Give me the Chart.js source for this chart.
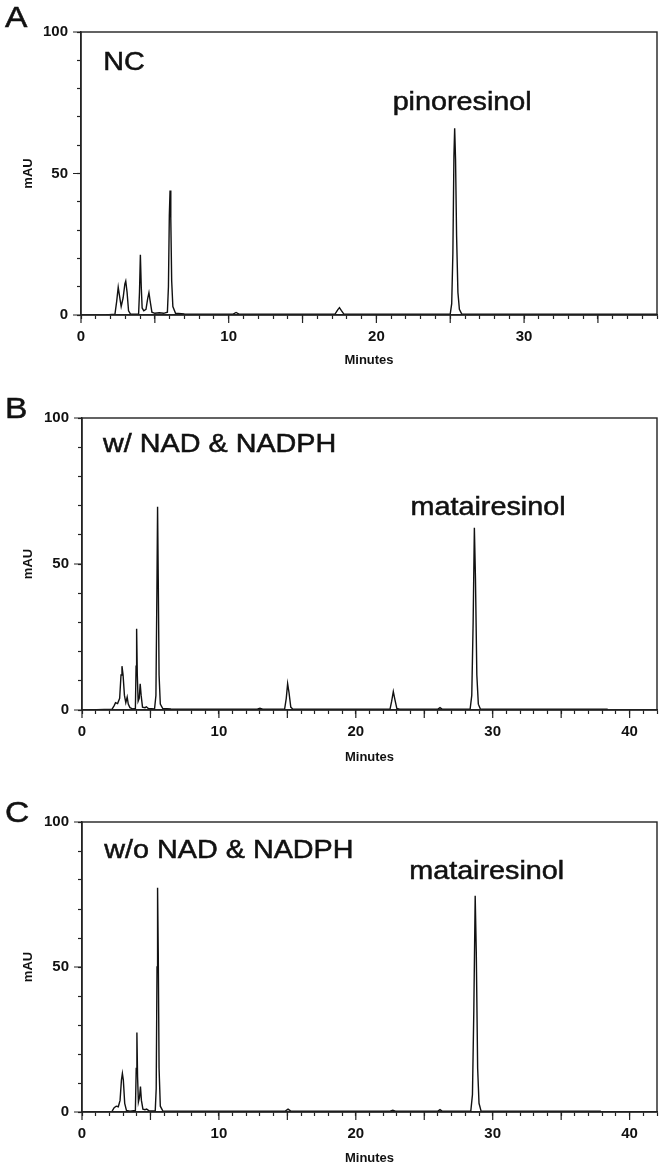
<!DOCTYPE html>
<html>
<head>
<meta charset="utf-8">
<script src="https://cdn.jsdelivr.net/npm/chart.js@4.4.0/dist/chart.umd.min.js"></script>
<style>
  body { margin: 0; background: #fff; width: 666px; height: 1166px; position: relative; overflow: hidden; }
  canvas { position: absolute; left: 0; }
</style>
</head>
<body>
<canvas id="panelA" width="666" height="380" style="top:0px"></canvas>
<canvas id="panelB" width="666" height="400" style="top:380px"></canvas>
<canvas id="panelC" width="666" height="386" style="top:780px"></canvas>
<script>
// chromatogram traces (minutes, mAU)
var timeA = [1.7, 2.3, 2.42, 2.52, 2.6, 2.72, 2.85, 2.97, 3.03, 3.12, 3.22, 3.35, 3.9, 3.96, 4.02, 4.08, 4.14, 4.25, 4.4, 4.52, 4.6, 4.68, 4.8, 5.0, 5.3, 5.6, 5.85, 5.92, 5.98, 6.03, 6.08, 6.14, 6.22, 6.4, 7.0, 8.6, 10.3, 10.5, 10.7, 17.2, 17.38, 17.5, 17.62, 17.8, 25.0, 25.1, 25.18, 25.25, 25.3, 25.36, 25.43, 25.52, 25.62, 25.78, 39];
var mauA  = [0, 0.3, 5, 9.8, 7, 3, 6, 11, 12, 8, 1.5, 0.3, 0.3, 8, 21.3, 10, 2.5, 1.5, 2, 6, 7.9, 5, 1, 0.6, 0.8, 0.6, 1, 10, 35, 44, 34, 12, 3, 0.6, 0.4, 0.3, 0.3, 0.9, 0.3, 0.3, 1.8, 2.6, 1.6, 0.3, 0.3, 4, 22, 56, 66, 55, 28, 8, 2, 0.3, 0.3];

var timeB = [0.5, 2.2, 2.35, 2.45, 2.6, 2.75, 2.85, 2.92, 3.0, 3.1, 3.2, 3.3, 3.38, 3.5, 3.7, 3.9, 3.95, 3.99, 4.04, 4.1, 4.18, 4.25, 4.32, 4.42, 4.6, 4.7, 4.85, 5.3, 5.4, 5.47, 5.52, 5.57, 5.63, 5.72, 5.9, 6.5, 12.8, 13.0, 13.2, 14.8, 14.92, 15.02, 15.12, 15.25, 15.4, 22.5, 22.62, 22.74, 22.86, 23.0, 23.2, 26.0, 26.15, 26.3, 28.35, 28.47, 28.57, 28.66, 28.74, 28.84, 28.95, 29.1, 38.4];
var mauB  = [0, 0.3, 1.5, 2.5, 2.2, 4, 12, 15, 12, 5, 2.5, 4.4, 2, 0.8, 0.4, 0.5, 15, 27.8, 12, 3, 4, 9, 5, 1, 0.8, 1.1, 0.5, 0.4, 5, 40, 69.6, 45, 12, 2, 0.5, 0.4, 0.3, 0.6, 0.3, 0.3, 4, 9, 6, 1, 0.3, 0.3, 3, 6.3, 3.5, 0.5, 0.3, 0.3, 0.8, 0.3, 0.3, 5, 30, 62.4, 45, 12, 2, 0.3, 0.3];

var timeC = [2.2, 2.35, 2.5, 2.65, 2.78, 2.88, 2.95, 3.02, 3.12, 3.25, 3.5, 3.9, 3.96, 4.01, 4.06, 4.12, 4.2, 4.27, 4.34, 4.45, 4.6, 4.72, 4.9, 5.35, 5.42, 5.48, 5.52, 5.57, 5.63, 5.72, 5.9, 14.85, 15.05, 15.25, 22.5, 22.7, 22.9, 26.0, 26.15, 26.3, 28.4, 28.52, 28.62, 28.72, 28.8, 28.9, 29.0, 29.15, 37.9];
var mauC  = [0.3, 1.5, 2, 1.8, 4, 11, 13.3, 11, 3, 0.5, 0.3, 0.5, 15, 27.4, 12, 3.4, 5, 8.8, 4, 1, 0.8, 1, 0.4, 0.4, 8, 50, 77.3, 55, 15, 2, 0.4, 0.3, 1, 0.3, 0.3, 0.6, 0.3, 0.3, 0.8, 0.3, 0.3, 6, 35, 74.6, 55, 15, 3, 0.3, 0.3];

var yTickLabels = [0, 50, 100];
var xTickLabelsA = [0, 10, 20, 30];
var xTickLabelsBC = [0, 10, 20, 30, 40];

var FONT = '"Liberation Sans", Arial, sans-serif';
var INK = '#111';

// text in the figure is a little wider and heavier than plain Arial
function stretchText(ctx, text, x, y, sx) {
  ctx.save();
  ctx.translate(x, y);
  ctx.scale(sx, 1);
  ctx.fillText(text, 0, 0);
  ctx.strokeText(text, 0, 0);
  ctx.restore();
}

// frame, longer major ticks, in-plot labels and panel letter
var decorPlugin = {
  id: 'decor',
  afterDraw: function(chart, args, opts) {
    var ctx = chart.ctx, a = chart.chartArea;
    var xs = chart.scales.x, ys = chart.scales.y;
    ctx.save();
    ctx.strokeStyle = '#222';
    ctx.lineWidth = 1.4;
    ctx.strokeRect(a.left, a.top, a.right - a.left, a.bottom - a.top);
    ctx.beginPath();
    for (var t = 0; t <= xs.max; t += 5) {
      var px = xs.getPixelForValue(t);
      ctx.moveTo(px, a.bottom);
      ctx.lineTo(px, a.bottom + 8);
    }
    for (var i = 0; i < yTickLabels.length; i++) {
      var py = ys.getPixelForValue(yTickLabels[i]);
      ctx.moveTo(a.left, py);
      ctx.lineTo(a.left - 8, py);
    }
    ctx.lineWidth = 1.2;
    ctx.stroke();

    ctx.fillStyle = INK;
    ctx.strokeStyle = INK;
    ctx.lineWidth = 0.5;
    ctx.textBaseline = 'alphabetic';
    ctx.textAlign = 'left';
    ctx.font = '25px ' + FONT;
    opts.notes.forEach(function(n) {
      stretchText(ctx, n.text, xs.getPixelForValue(n.x), ys.getPixelForValue(n.y), 1.15);
    });
    ctx.font = '30px ' + FONT;
    stretchText(ctx, opts.letter, 5, opts.letterY, 1.12);
    ctx.restore();
  }
};

function createGraph(id, times, values, cfg) {
  var points = times.map(function(t, i) { return {x: t, y: values[i]}; });
  return new Chart(document.getElementById(id), {
    type: 'line',
    data: {
      datasets: [{
        data: points,
        borderColor: INK,
        borderWidth: 1.4,
        pointRadius: 0,
        tension: 0,
        fill: false
      }]
    },
    plugins: [decorPlugin],
    options: {
      responsive: false,
      animation: false,
      layout: { padding: { left: 0, top: cfg.top, right: 2, bottom: 0 } },
      plugins: {
        legend: { display: false },
        tooltip: { enabled: false },
        decor: { letter: cfg.letter, letterY: cfg.letterY, notes: cfg.notes }
      },
      scales: {
        x: {
          type: 'linear',
          min: 0,
          max: cfg.xMax,
          border: { color: '#222', width: 1.4 },
          grid: { drawOnChartArea: false, drawTicks: true, tickLength: 4, tickColor: '#222', tickWidth: 1.2 },
          ticks: {
            stepSize: 1,
            autoSkip: false,
            maxRotation: 0,
            padding: 9,
            color: INK,
            font: { family: FONT, size: 15, weight: 'bold' },
            callback: function(v) { return cfg.xLabels.indexOf(v) >= 0 ? String(v) : ''; }
          },
          title: {
            display: true,
            text: 'Minutes',
            color: INK,
            font: { family: FONT, size: 13, weight: 'bold' },
            padding: { top: 0, bottom: cfg.titlePad }
          },
          afterFit: function(s) { s.height = cfg.xHeight; }
        },
        y: {
          min: 0,
          max: 100,
          border: { color: '#222', width: 1.4 },
          grid: { drawOnChartArea: false, drawTicks: true, tickLength: 4, tickColor: '#222', tickWidth: 1.2 },
          ticks: {
            stepSize: 10,
            padding: 9,
            color: INK,
            font: { family: FONT, size: 15, weight: 'bold' },
            callback: function(v) { return yTickLabels.indexOf(v) >= 0 ? String(v) : ''; }
          },
          title: {
            display: true,
            text: 'mAU',
            color: INK,
            font: { family: FONT, size: 13, weight: 'bold' },
            padding: { top: 21, bottom: 0 }
          },
          afterFit: function(s) { s.width = cfg.yWidth; }
        }
      }
    }
  });
}

var chartA = createGraph('panelA', timeA, mauA, {
  xMax: 39, top: 32, yWidth: 81, xHeight: 65, titlePad: 12,
  xLabels: xTickLabelsA, letter: 'A', letterY: 27,
  notes: [{text: 'NC', x: 1.5, y: 86.5}, {text: 'pinoresinol', x: 21.1, y: 72.5}]
});
var chartB = createGraph('panelB', timeB, mauB, {
  xMax: 42, top: 38, yWidth: 82, xHeight: 70, titlePad: 15,
  xLabels: xTickLabelsBC, letter: 'B', letterY: 38,
  notes: [{text: 'w/ NAD & NADPH', x: 1.54, y: 88.2}, {text: 'matairesinol', x: 24.0, y: 66.8}]
});
var chartC = createGraph('panelC', timeC, mauC, {
  xMax: 42, top: 42, yWidth: 82, xHeight: 54, titlePad: 0,
  xLabels: xTickLabelsBC, letter: 'C', letterY: 42,
  notes: [{text: 'w/o NAD & NADPH', x: 1.63, y: 87.7}, {text: 'matairesinol', x: 23.9, y: 80.5}]
});
</script>
</body>
</html>
